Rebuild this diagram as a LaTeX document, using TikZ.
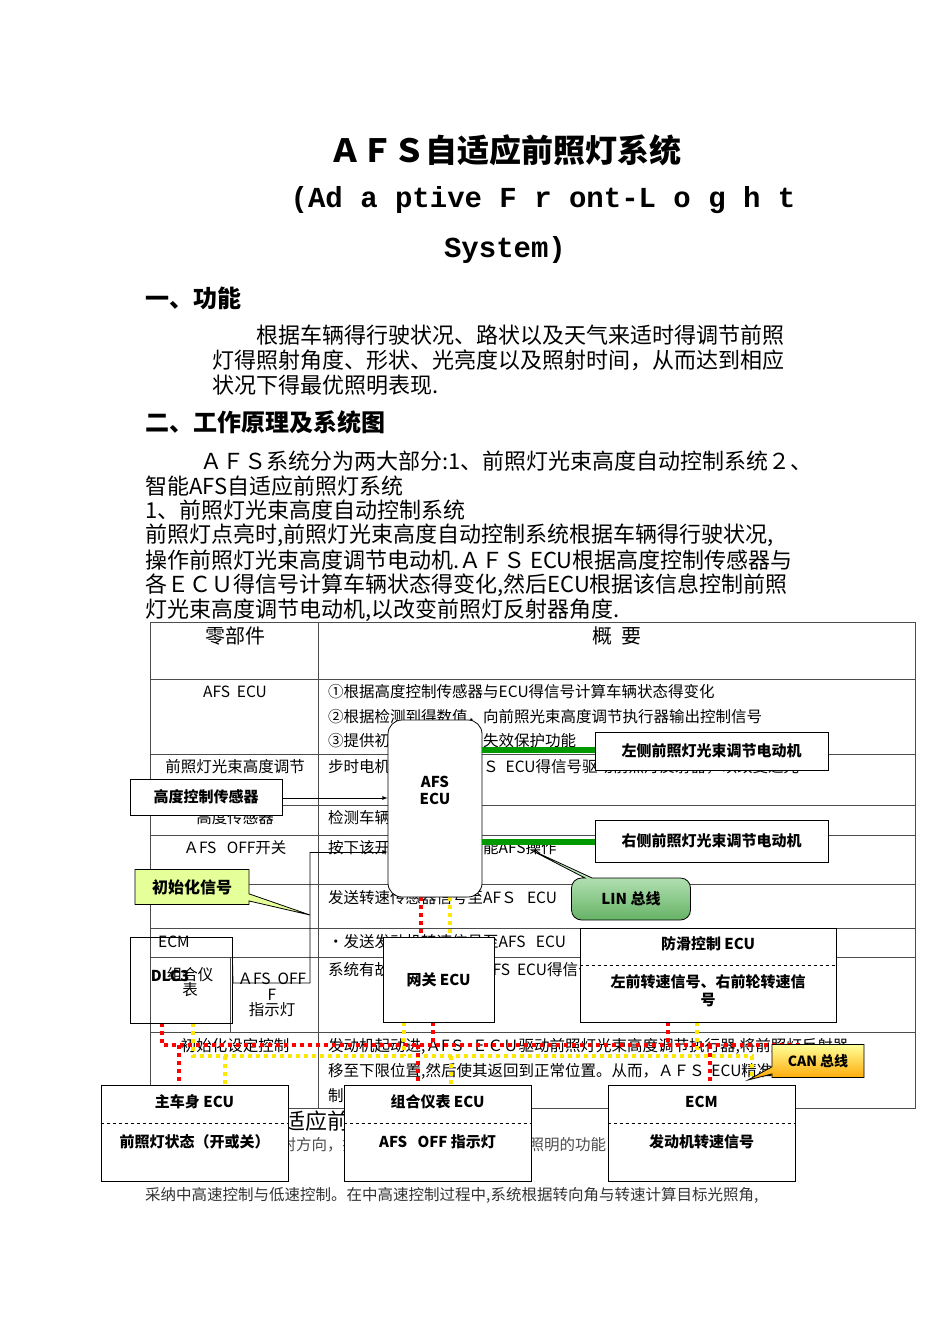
\documentclass[tikz,border=0pt]{standalone}
\usepackage{fontspec}
\setmainfont{Noto Sans CJK SC}
\newfontfamily\monob{Liberation Mono}
\usetikzlibrary{shapes.callouts,calc}
\begin{document}
\begin{tikzpicture}[x=1pt,y=-1pt,
  body/.style={anchor=west,inner sep=0,font=\fontsize{22}{22}\selectfont},
  cell/.style={anchor=center,inner sep=0,font=\fontsize{15.5}{15.5}\selectfont},
  cellw/.style={anchor=west,inner sep=0,font=\fontsize{15.5}{15.5}\selectfont},
  bx/.style={draw,fill=white,line width=0.8pt,font=\fontsize{15}{15}\selectfont\bfseries},
  grid/.style={draw=black!70,line width=0.7pt},
  redbus/.style={draw=red,line width=3.5pt,dash pattern=on 4pt off 4pt},
  yelbus/.style={draw=yellow!90!orange,line width=3.5pt,dash pattern=on 4pt off 4pt},
  lin/.style={draw=green!60!black,line width=6pt}]
\useasboundingbox (0,0) rectangle (950,1344);
\fill[white] (0,0) rectangle (950,1344);
% title
\node[font=\fontsize{32}{32}\selectfont\bfseries] (t1) at (505,150) {ＡＦＳ自适应前照灯系统};
\node[font=\monob\fontsize{29}{29}\selectfont\bfseries] (t2) at (543,200) {(Ad a ptive F r ont-L o g h t};
\node[font=\monob\fontsize{29}{29}\selectfont\bfseries] (t3) at (505,250) {System)};
\node[body,font=\fontsize{24}{24}\selectfont\bfseries] (h1) at (145,298) {一、功能};
\node[body] (p1) at (256,335) {根据车辆得行驶状况、路状以及天气来适时得调节前照};
\node[body] (p2) at (212,360) {灯得照射角度、形状、光亮度以及照射时间，从而达到相应};
\node[body] (p3) at (212,385) {状况下得最优照明表现.};
\node[body,font=\fontsize{24}{24}\selectfont\bfseries] (h2) at (145,422) {二、工作原理及系统图};
\node[body] (q1) at (200,461) {ＡＦＳ系统分为两大部分:1、前照灯光束高度自动控制系统２、};
\node[body] (q2) at (145,486) {智能AFS自适应前照灯系统};
\node[body] (q3) at (145,510) {1、前照灯光束高度自动控制系统};
\node[body] (q4) at (145,535) {前照灯点亮时,前照灯光束高度自动控制系统根据车辆得行驶状况,};
\node[body] (q5) at (145,560) {操作前照灯光束高度调节电动机.ＡＦＳ ECU根据高度控制传感器与};
\node[body] (q6) at (145,585) {各ＥＣＵ得信号计算车辆状态得变化,然后ECU根据该信息控制前照};
\node[body] (q7) at (145,610) {灯光束高度调节电动机,以改变前照灯反射器角度.};
% text below table (partly covered)
\node[body,font=\fontsize{22}{22}\selectfont] (b1) at (145,1121) {2、智能AFS自适应前照灯系统};
\node[body,font=\fontsize{15.5}{15.5}\selectfont,text=black!70] (b2) at (145,1145) {AFS通过移动近光照射方向，提供左右方向上范围得近光照明的功能};
\node[body,font=\fontsize{15.5}{15.5}\selectfont,text=black!80] (b3) at (145,1195) {采纳中高速控制与低速控制。在中高速控制过程中,系统根据转向角与转速计算目标光照角,};
% table
\fill[white] (150,622) rectangle (915,1108);
\draw[grid] (150,622) rectangle (915,1108);
\draw[grid] (318,622) -- (318,1108);
\foreach \y in {679,754,805,835,884,928,957,1032} \draw[grid] (150,\y) -- (915,\y);
\draw[grid] (230,957) -- (230,1032);
\node[cell,font=\fontsize{20}{20}\selectfont] (c0) at (235,636) {零部件};
\node[cell,font=\fontsize{20}{20}\selectfont] (c1) at (617,636) {概\ \ 要};
\node[cell] (r1) at (235,692) {AFS\ \ ECU};
\node[cellw] (r1a) at (328,692) {①根据高度控制传感器与ECU得信号计算车辆状态得变化};
\node[cellw] (r1b) at (328,717) {②根据检测到得数值，向前照光束高度调节执行器输出控制信号};
\node[cellw] (r1c) at (328,741) {③提供初始设定功能，失效保护功能};
\node[cell] (r2) at (235,767) {前照灯光束高度调节};
\node[cellw] (r2a) at (328,767) {步时电机根据来自ＡＦＳ\ \ ECU得信号驱动前照灯反射器，以改变近光};
\node[cell] (r3) at (235,818) {高度传感器};
\node[cellw] (r3a) at (328,818) {检测车辆高度};
\node[cell] (r4) at (235,848) {ＡFS\ \ \ OFF开关};
\node[cellw] (r4a) at (328,848) {按下该开关可关闭或启能AFS操作};
\node[cellw] (r5a) at (328,898) {发送转速传感器信号至AFＳ\ \ \ ECU};
\node[cellw] (r6) at (158,942) {ECM};
\node[cellw] (r6a) at (328,942) {•发送发动机转速信号至AFS\ \ \ ECU};
\node[cell,align=center] (r7) at (190,982) {组合仪\\表};
\node[cell,align=center] (r7b) at (272,995) {ＡFS\ \ OFF\\F\\指示灯};
\node[cellw] (r7a) at (328,970) {系统有故障时根据来自AFS\ \ ECU得信号使指示灯闪耀};
\node[cell] (r8) at (235,1046) {初始化设定控制};
\node[cellw] (r8a) at (328,1046) {发动机起动进,ＡFＳ\ \ ＥＣＵ驱动前照灯光束高度调节执行器,将前照灯反射器};
\node[cellw] (r8b) at (328,1071) {移至下限位置,然后使其返回到正常位置。从而，ＡＦＳ\ \ ECU精准控};
\node[cellw] (r8c) at (328,1096) {制};
% buses
\draw[redbus] (162,1023) -- (162,1045) -- (800,1045);
\draw[yelbus] (193,1023) -- (193,1056) -- (752,1056) -- (752,1080);
\draw[redbus] (179,1045) -- (179,1085);
\draw[redbus] (433,1022) -- (433,1045);
\draw[redbus] (418,1045) -- (418,1085);
\draw[redbus] (668,1022) -- (668,1045);
\draw[redbus] (710,1045) -- (710,1085);
\draw[yelbus] (225,1056) -- (225,1085);
\draw[yelbus] (404,1022) -- (404,1056);
\draw[yelbus] (451,1056) -- (451,1085);
\draw[yelbus] (697,1022) -- (697,1056);
\draw[redbus] (421,897) -- (421,937);
\draw[yelbus] (450,897) -- (450,937);
% boxes
\node[bx,rounded corners=14pt,minimum width=94pt,minimum height=177pt,align=center] (afs) at (435,808.5) {};
\node[font=\fontsize{15}{17}\selectfont\bfseries,align=center] (afst) at (435,790) {AFS\\ECU};
\node[bx,minimum width=233pt,minimum height=38pt] (lm) at (711.5,751) {左侧前照灯光束调节电动机};
\node[bx,minimum width=233pt,minimum height=42pt] (rm) at (711.5,841) {右侧前照灯光束调节电动机};
\draw[lin] (afs.east |- 0,750) -- (lm.west |- 0,750);
\draw[lin] (afs.east |- 0,842) -- (rm.west |- 0,842);
\node[bx,minimum width=152pt,minimum height=36pt] (hs) at (206,797) {高度控制传感器};
\draw[-latex,line width=0.8pt] (hs.east |- 0,798) -- (afs.west |- 0,798);
\node[draw,line width=0.8pt,minimum width=102pt,minimum height=86pt] (dlc) at (181,980) {};
\node[font=\fontsize{15}{15}\selectfont\bfseries] (dlct) at (170,976) {DLC3};
\draw[line width=0.8pt] (dlc.east |- 0,957) -- (233,983) -- (310,983) -- (310,852) edge[-latex] (afs.west |- 0,852);
\node[bx,minimum width=111pt,minimum height=85pt] (gw) at (438.5,979.5) {网关 ECU};
\node[bx,minimum width=256pt,minimum height=94pt] (abs) at (708,975) {};
\node[font=\fontsize{15}{15}\selectfont\bfseries] (abst) at (708,944) {防滑控制 ECU};
\draw[dashed,line width=0.8pt] (abs.west |- 0,965) -- (abs.east |- 0,965);
\node[font=\fontsize{15}{18}\selectfont\bfseries,align=center] (absb) at (708,991) {左前转速信号、右前轮转速信\\号};
\foreach \n/\cx/\ta/\tb in {bb/194.5/主车身 ECU/前照灯状态（开或关）,cm/437.5/组合仪表 ECU/AFS\ \ \ OFF 指示灯,ecm/701.5/ECM/发动机转速信号}{
  \node[bx,minimum width=187pt,minimum height=96pt] (\n) at (\cx,1133) {};
  \draw[dashed,line width=0.8pt] (\n.west |- 0,1123) -- (\n.east |- 0,1123);
  \node[font=\fontsize{15}{15}\selectfont\bfseries] (\n t) at (\cx,1102) {\ta};
  \node[font=\fontsize{15}{15}\selectfont\bfseries] (\n b) at (\cx,1142) {\tb};
}
% callouts
\node[draw,line width=0.8pt,fill=green!25!yellow!40,rectangle callout,callout absolute pointer={(310,915)},minimum width=114pt,minimum height=35pt,font=\fontsize{16}{16}\selectfont\bfseries] (init) at (192,887) {初始化信号};
\node[draw,line width=0.8pt,top color=green!10!white,bottom color=green!50!black!60,rounded corners=10pt,rectangle callout,callout absolute pointer={(527,848)},minimum width=119pt,minimum height=42pt,font=\fontsize{15}{15}\selectfont\bfseries] (lin) at (631,899) {LIN 总线};
\node[draw,line width=0.8pt,top color=yellow!40,bottom color=orange!70!yellow,rectangle callout,callout absolute pointer={(748,1080)},minimum width=92pt,minimum height=33pt,font=\fontsize{14}{14}\selectfont\bfseries] (can) at (818,1061) {CAN 总线};
\end{tikzpicture}
\end{document}
